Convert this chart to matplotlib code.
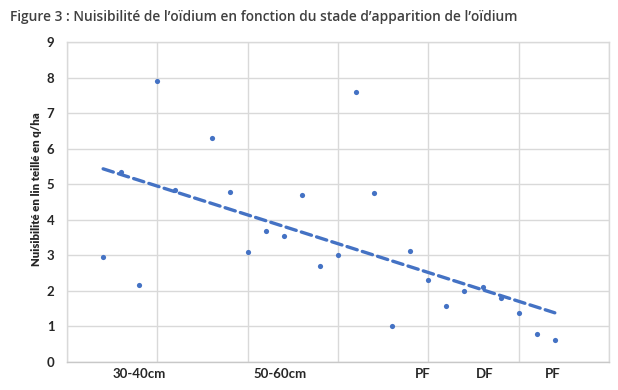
import matplotlib
matplotlib.use("Agg")
import matplotlib.pyplot as plt
import numpy as np

# Nuisibilité (q/ha) par parcelle, ordonnée selon le stade d'apparition
parcelle = [2, 3, 4, 5, 6, 8, 9, 10, 11, 12, 13, 14, 15, 16, 17,
            18, 19, 20, 21, 22, 23, 24, 25, 26, 27]
nuisibilite = [2.95, 5.35, 2.17, 7.89, 4.84, 6.29, 4.79, 3.09, 3.69, 3.54,
               4.69, 2.70, 3.01, 7.58, 4.74, 1.00, 3.11, 2.30, 1.57, 2.00,
               2.10, 1.80, 1.38, 0.80, 0.61]
stade_labels = ["30-40cm", "50-60cm", "PF", "DF", "PF"]
stade_pos = [4.0, 11.8, 19.7, 23.1, 26.9]

blue = "#4472c4"
grid_col = "#d9d9d9"
text_col = "#404040"

fig = plt.figure(figsize=(6.18, 3.90), dpi=100)
ax = fig.add_axes([67 / 618, 28 / 390, 542 / 618, 320 / 390])

x = np.array(parcelle, dtype=float)
y = np.array(nuisibilite)
ax.scatter(x, y, s=14, color=blue, zorder=3, linewidths=0)

# linear trend line over the data range
slope, intercept = np.polyfit(x, y, 1)
xt = np.array([x.min(), x.max()])
ax.plot(xt, slope * xt + intercept, color=blue, lw=2.4,
        dashes=(3.2, 1.6), dash_capstyle="round", zorder=2)

ax.set_xlim(0, 30)
ax.set_ylim(0, 9)
ax.set_yticks(range(0, 10))
ax.set_xticks(range(0, 31, 5), minor=True)
ax.grid(True, which="minor", axis="x", color=grid_col, lw=1)
ax.grid(True, which="major", axis="y", color=grid_col, lw=1)
ax.set_axisbelow(True)
ax.set_xticks(stade_pos)
ax.set_xticklabels(stade_labels)
ax.tick_params(axis="both", which="both", length=0)
ax.tick_params(axis="y", pad=9)
ax.tick_params(axis="x", pad=4)
for lab in ax.get_yticklabels() + ax.get_xticklabels():
    lab.set_fontfamily("Lato")
    lab.set_fontweight("bold")
    lab.set_fontsize(9.5)
    lab.set_color("#262626")

for side, spine in ax.spines.items():
    spine.set_color(grid_col)
    spine.set_linewidth(1)
ax.spines["bottom"].set_color("#c8c8c8")

fig.text(37 / 618, 1 - 189 / 390, "Nuisibilité en lin teillé en q/ha",
         rotation=90, ha="center", va="center", fontsize=8.2,
         fontweight="heavy", family="Lato", color="#262626")

fig.text(10 / 618, 1 - 17 / 390,
         "Figure 3 : Nuisibilité de l’oïdium en fonction du stade d’apparition de l’oïdium",
         ha="left", va="center", fontsize=9.9, fontweight="semibold",
         family="Open Sans", color=text_col)

fig.savefig("out.png", dpi=100, facecolor="white")
